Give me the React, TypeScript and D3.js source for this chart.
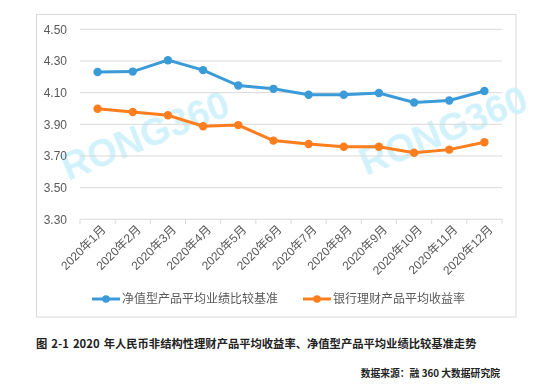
import * as d3 from "d3";

const months = [
  "2020年1月", "2020年2月", "2020年3月", "2020年4月", "2020年5月", "2020年6月",
  "2020年7月", "2020年8月", "2020年9月", "2020年10月", "2020年11月", "2020年12月",
];
const netValue = [4.23, 4.233, 4.305, 4.242, 4.145, 4.124, 4.087, 4.087, 4.098, 4.038, 4.05, 4.11];
const bankYield = [3.998, 3.978, 3.957, 3.888, 3.895, 3.797, 3.776, 3.758, 3.758, 3.72, 3.74, 3.787];
const yTicks = [3.3, 3.5, 3.7, 3.9, 4.1, 4.3, 4.5];

const series = [
  { name: "净值型产品平均业绩比较基准", values: netValue, color: "#3a9bd8" },
  { name: "银行理财产品平均收益率", values: bankYield, color: "#fd7e1e" },
];

const caption = "图 2-1 2020 年人民币非结构性理财产品平均收益率、净值型产品平均业绩比较基准走势";
const source = "数据来源：融 360 大数据研究院";

export default function App() {
  const plotLeft = 80;
  const plotRight = 502;
  const plotTop = 29.3;
  const plotBottom = 219.3;
  const font = "'Liberation Sans', Arial, 'Noto Sans CJK SC', sans-serif";
  const cjk = "'Noto Sans CJK SC', sans-serif";

  const x = d3.scaleBand().domain(months).range([plotLeft, plotRight]);
  const y = d3.scaleLinear().domain([3.3, 4.5]).range([plotBottom, plotTop]);

  const line = d3
    .line<number>()
    .x((_, i) => x(months[i])! + x.bandwidth() / 2)
    .y((d) => y(d));

  return (
    <svg
      width={556}
      height={388}
      style={{ position: "absolute", left: 0, top: 0, background: "#fff" }}
    >
      {/* chart frame */}
      <rect x={36.5} y={14.5} width={479.5} height={302.5} fill="none" stroke="#d9d9d9" />

      {/* watermarks */}
      <g fill="#c6eefa" opacity={0.8} fontFamily={font} fontWeight="bold" fontSize={38}>
        <text transform="translate(68,181) rotate(-22)">RONG360</text>
        <text transform="translate(366,176) rotate(-22)">RONG360</text>
      </g>

      {/* grid + y labels */}
      {yTicks.map((t) => (
        <g key={t}>
          <line
            x1={plotLeft}
            x2={plotRight}
            y1={y(t)}
            y2={y(t)}
            stroke="#d9d9d9"
            strokeWidth={1}
          />
          <text
            x={67}
            y={y(t)}
            dy="0.35em"
            textAnchor="end"
            fontFamily={font}
            fontSize={12}
            fill="#595959"
          >
            {t.toFixed(2)}
          </text>
        </g>
      ))}

      {/* x ticks */}
      {[...months.map((m) => x(m)!), plotRight].map((px, i) => (
        <line key={i} x1={px} x2={px} y1={plotBottom} y2={plotBottom + 5} stroke="#d9d9d9" />
      ))}
      {months.map((m) => {
        const cx = x(m)! + x.bandwidth() / 2;
        return (
          <text
            key={m}
            transform={`translate(${cx + 6},${plotBottom + 8}) rotate(-45)`}
            textAnchor="end"
            dy="0.35em"
            fontFamily={font}
            fontSize={12}
            fill="#595959"
          >
            {m}
          </text>
        );
      })}

      {/* series */}
      {series.map((s) => (
        <g key={s.name}>
          <path d={line(s.values)!} fill="none" stroke={s.color} strokeWidth={3} />
          {s.values.map((v, i) => (
            <circle
              key={i}
              cx={x(months[i])! + x.bandwidth() / 2}
              cy={y(v)}
              r={4.2}
              fill={s.color}
            />
          ))}
        </g>
      ))}

      {/* legend */}
      {series.map((s, i) => {
        const lx = i === 0 ? 92 : 303;
        return (
          <g key={s.name} transform={`translate(${lx},299)`}>
            <line x1={0} x2={28} y1={0} y2={0} stroke={s.color} strokeWidth={3} />
            <circle cx={14} cy={0} r={3.8} fill={s.color} />
            <text
              x={30}
              dy="0.36em"
              fontFamily={cjk}
              fontSize={12}
              fill="#595959"
            >
              {s.name}
            </text>
          </g>
        );
      })}

      {/* caption */}
      <text
        x={36}
        y={344}
        dy="0.35em"
        fontFamily={cjk}
        fontSize={11.3}
        fontWeight="bold"
        fill="#222"
        wordSpacing={1.5}
      >
        {caption}
      </text>
      <text
        x={500}
        y={374}
        dy="0.35em"
        textAnchor="end"
        fontFamily={cjk}
        fontSize={9.8}
        fontWeight="bold"
        fill="#222"
      >
        {source}
      </text>
    </svg>
  );
}
